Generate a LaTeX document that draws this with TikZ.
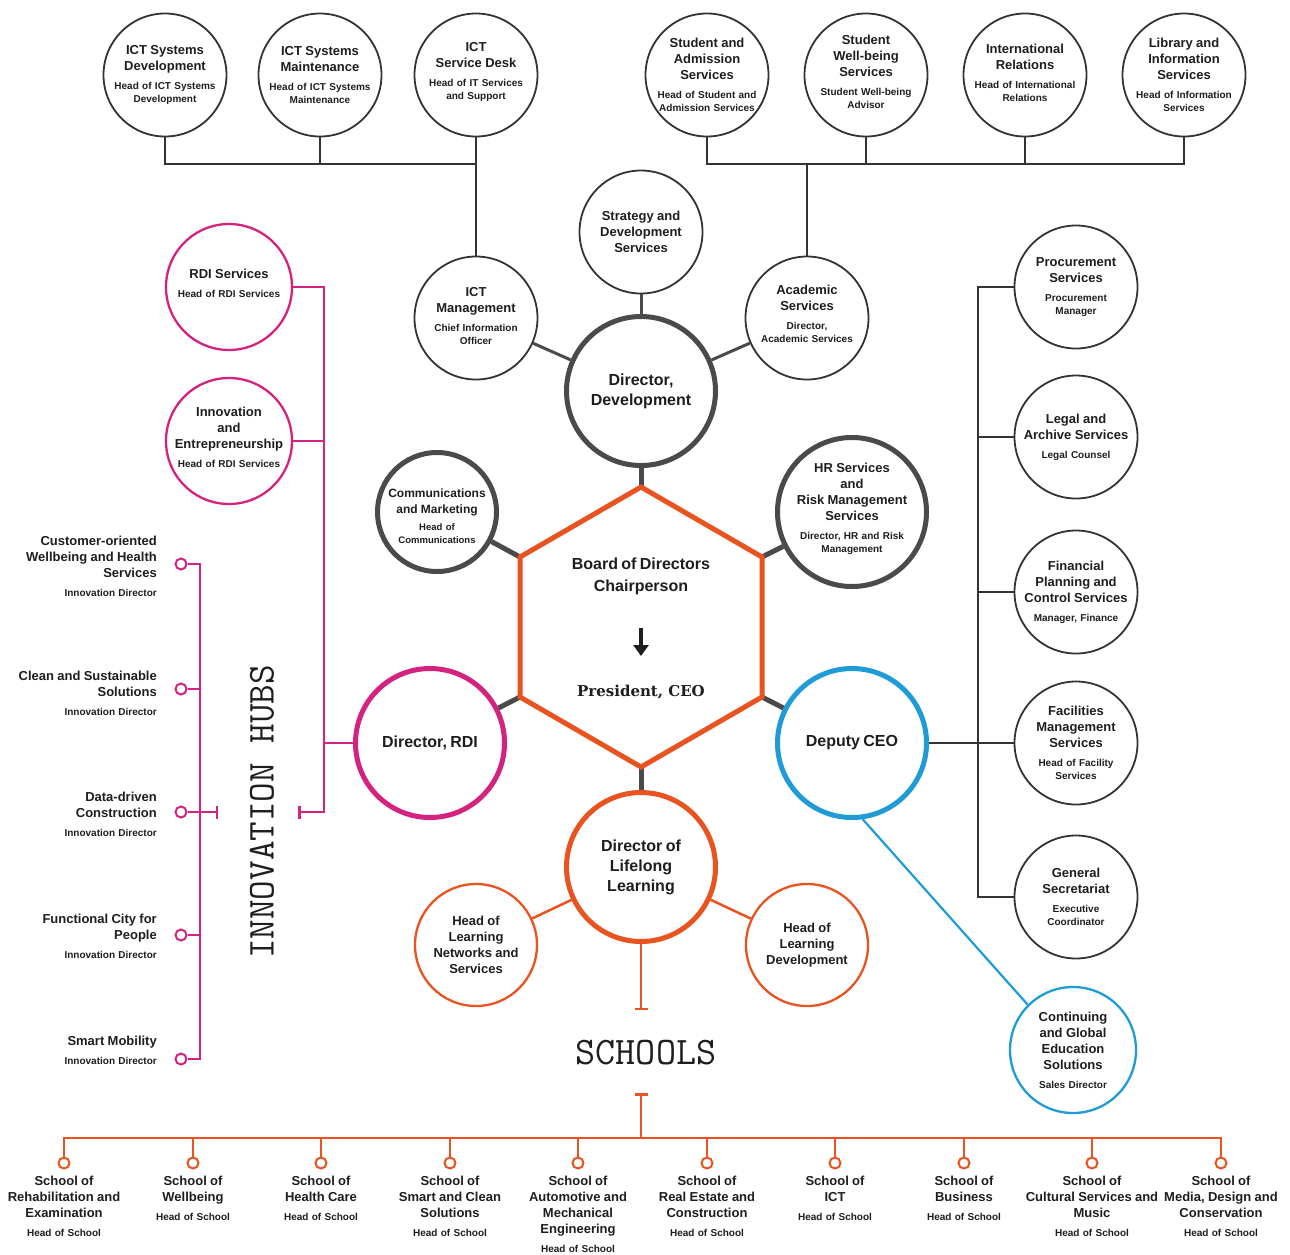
\documentclass[tikz,border=0pt]{standalone}
\usepackage{fontspec}
\setmainfont{Liberation Sans}
\newfontfamily\slabf{DejaVu Serif}
\usetikzlibrary{arrows.meta,calc}
\definecolor{mag}{HTML}{D4237E}
\definecolor{org}{HTML}{E8531F}
\definecolor{cyn}{HTML}{1F9BD7}
\definecolor{dg}{HTML}{4A4A4A}
\definecolor{lk}{HTML}{333333}
\definecolor{tx}{HTML}{1E1E1E}
\newcommand\ttlf{\fontsize{13}{16}\selectfont}
\newcommand\subf{\fontsize{10}{13}\selectfont}
\newcommand\bigf{\fontsize{16}{20}\selectfont}
\newcommand\ctxt[2]{{\ttlf #1\par}\vskip6pt{\subf #2\par}}
\newcommand\cone[1]{{\ttlf #1\par}}
\newcommand\cbig[1]{{\bigf #1\par}}
\begin{document}
\begin{tikzpicture}[x=1pt,y=-1pt,
 cir/.style={circle, draw=lk, line width=1.8pt, minimum size=123pt, inner sep=0pt, fill=white},
 thk/.style={circle, line width=5pt, inner sep=0pt, fill=white},
 txt/.style={text width=160pt, align=center, inner sep=0pt, font=\bfseries, text=tx},
 lkl/.style={draw=lk, line width=2pt},
 gcon/.style={draw=dg, line width=5pt},
 mline/.style={draw=mag, line width=2.5pt},
 oline/.style={draw=org, line width=2.5pt},
 cline/.style={draw=cyn, line width=2.2pt},
 hdot/.style={circle, line width=2pt, minimum size=11pt, inner sep=0pt, fill=white},
 hubl/.style={text width=170pt, align=right, inner sep=0pt, font=\bfseries, text=tx, anchor=east},
 schl/.style={text width=150pt, align=center, inner sep=0pt, font=\bfseries, text=tx, anchor=north},
 tbar/.style={-{Bar[width=13pt]}},
]
\fill[white] (0,0) rectangle (1290,1254);
\useasboundingbox (0,0) rectangle (1290,1254);

% ---------- top row ----------
\node[cir] (isd) at (165,75) {};
\node[txt] (isd-t) at (isd) {\ctxt{ICT Systems\\Development}{Head of ICT Systems\\Development}};
\node[cir] (ism) at (320,75) {};
\node[txt] (ism-t) at (ism) {\ctxt{ICT Systems\\Maintenance}{Head of ICT Systems\\Maintenance}};
\node[cir] (isdesk) at (476,75) {};
\node[txt] (isdesk-t) at ([yshift=3pt]isdesk) {\ctxt{ICT\\Service Desk}{Head of IT Services\\and Support}};
\node[cir] (sas) at (707,75) {};
\node[txt] (sas-t) at (sas) {\ctxt{Student and\\Admission\\Services}{Head of Student and\\Admission Services}};
\node[cir] (swb) at (866,75) {};
\node[txt] (swb-t) at ([yshift=3pt]swb) {\ctxt{Student\\Well-being\\Services}{Student Well-being\\Advisor}};
\node[cir] (intl) at (1025,75) {};
\node[txt] (intl-t) at ([yshift=2pt]intl) {\ctxt{International\\Relations}{Head of International\\Relations}};
\node[cir] (lib) at (1184,75) {};
\node[txt] (lib-t) at (lib) {\ctxt{Library and\\Information\\Services}{Head of Information\\Services}};

% ---------- development ----------
\node[cir] (strat) at (641,232) {};
\node[txt] (strat-t) at (strat) {\cone{Strategy and\\Development\\Services}};
\node[cir] (ictm) at (476,318) {};
\node[txt] (ictm-t) at ([yshift=2pt]ictm) {\ctxt{ICT\\Management}{Chief Information\\Officer}};
\node[cir] (acad) at (807,318) {};
\node[txt] (acad-t) at ([yshift=4pt]acad) {\ctxt{Academic\\Services}{Director,\\Academic Services}};
\node[thk, draw=dg, minimum size=149pt] (dd) at (641,391) {};
\node[txt] (dd-t) at (dd) {\cbig{Director,\\Development}};

% ---------- hexagon ring ----------
\node[thk, draw=dg, minimum size=119pt] (comm) at (437,512) {};
\node[txt] (comm-t) at ([yshift=-4pt]comm) {{\fontsize{12}{16}\selectfont Communications\\and Marketing\par}\vskip5pt{\fontsize{9.5}{12.5}\selectfont Head of\\Communications\par}};
\node[thk, draw=dg, minimum size=149pt] (hr) at (852,512) {};
\node[txt] (hr-t) at ([yshift=3pt]hr) {\ctxt{HR Services\\and\\Risk Management\\Services}{Director, HR and Risk\\Management}};
\node[thk, draw=mag, minimum size=149pt] (drdi) at (430,743) {};
\node[txt] (drdi-t) at (drdi) {\cbig{Director, RDI}};
\node[thk, draw=cyn, minimum size=149pt] (dceo) at (852,743) {};
\node[txt] (dceo-t) at (dceo) {\cbig{Deputy CEO}};
\node[thk, draw=org, minimum size=149pt] (dll) at (641,867) {};
\node[txt] (dll-t) at (dll) {\cbig{Director of\\Lifelong\\Learning}};
\node[circle, draw=org, line width=2.3pt, minimum size=122pt, inner sep=0pt, fill=white] (hln) at (476,945) {};
\node[txt] (hln-t) at (hln) {\cone{Head of\\Learning\\Networks and\\Services}};
\node[circle, draw=org, line width=2.3pt, minimum size=122pt, inner sep=0pt, fill=white] (hld) at (807,945) {};
\node[txt] (hld-t) at (hld) {\cone{Head of\\Learning\\Development}};

% ---------- right column ----------
\node[cir] (proc) at (1076,287) {};
\node[txt] (proc-t) at (proc) {\ctxt{Procurement\\Services}{Procurement\\Manager}};
\node[cir] (legal) at (1076,437) {};
\node[txt] (legal-t) at (legal) {\ctxt{Legal and\\Archive Services}{Legal Counsel}};
\node[cir] (fin) at (1076,592) {};
\node[txt] (fin-t) at (fin) {\ctxt{Financial\\Planning and\\Control Services}{Manager, Finance}};
\node[cir] (fac) at (1076,743) {};
\node[txt] (fac-t) at (fac) {\ctxt{Facilities\\Management\\Services}{Head of Facility\\Services}};
\node[cir] (gsec) at (1076,897) {};
\node[txt] (gsec-t) at (gsec) {\ctxt{General\\Secretariat}{Executive\\Coordinator}};
\node[circle, draw=cyn, line width=2.3pt, minimum size=126pt, inner sep=0pt, fill=white] (cges) at (1073,1050) {};
\node[txt] (cges-t) at (cges) {\ctxt{Continuing\\and Global\\Education\\Solutions}{Sales Director}};

% ---------- left RDI ----------
\node[circle, draw=mag, line width=2.3pt, minimum size=126pt, inner sep=0pt, fill=white] (rdis) at (229,287) {};
\node[txt] (rdis-t) at ([yshift=4pt]rdis) {\ctxt{RDI Services}{Head of RDI Services}};
\node[circle, draw=mag, line width=2.3pt, minimum size=126pt, inner sep=0pt, fill=white] (ie) at (229,441) {};
\node[txt] (ie-t) at ([yshift=4pt]ie) {\ctxt{Innovation\\and\\Entrepreneurship}{Head of RDI Services}};

% ---------- innovation hubs ----------
\node[hdot, draw=mag] (h1) at (181,564) {};
\node[hdot, draw=mag] (h2) at (181,689) {};
\node[hdot, draw=mag] (h3) at (181,812) {};
\node[hdot, draw=mag] (h4) at (181,935) {};
\node[hdot, draw=mag] (h5) at (181,1059) {};
\node[hubl] (hl1) at (157,566) {\ctxt{Customer-oriented\\Wellbeing and Health\\Services}{Innovation Director}};
\node[hubl] (hl2) at (157,693) {\ctxt{Clean and Sustainable\\Solutions}{Innovation Director}};
\node[hubl] (hl3) at (157,814) {\ctxt{Data-driven\\Construction}{Innovation Director}};
\node[hubl] (hl4) at (157,936) {\ctxt{Functional City for\\People}{Innovation Director}};
\node[hubl] (hl5) at (157,1050) {\ctxt{Smart Mobility}{Innovation Director}};
\node[rotate=90, inner sep=0pt, font=\ttfamily\fontsize{38}{38}\selectfont, text=tx] (ihubs) at (262,812) {INNOVATION HUBS};

% ---------- schools ----------
\node[font=\ttfamily\fontsize{39}{39}\selectfont, inner sep=0pt, text=tx] (schools) at (646,1053) {SCHOOLS};
\foreach \i/\x in {1/64,2/193,3/321,4/450,5/578,6/707,7/835,8/964,9/1092,10/1221}{
  \node[hdot, draw=org] (sc\i) at (\x,1163) {};
}
\node[schl] (sl1) at ([yshift=-6pt]sc1.south) {\ctxt{School of\\Rehabilitation and\\Examination}{Head of School}};
\node[schl] (sl2) at ([yshift=-6pt]sc2.south) {\ctxt{School of\\Wellbeing}{Head of School}};
\node[schl] (sl3) at ([yshift=-6pt]sc3.south) {\ctxt{School of\\Health Care}{Head of School}};
\node[schl] (sl4) at ([yshift=-6pt]sc4.south) {\ctxt{School of\\Smart and Clean\\Solutions}{Head of School}};
\node[schl] (sl5) at ([yshift=-6pt]sc5.south) {\ctxt{School of\\Automotive and\\Mechanical\\Engineering}{Head of School}};
\node[schl] (sl6) at ([yshift=-6pt]sc6.south) {\ctxt{School of\\Real Estate and\\Construction}{Head of School}};
\node[schl] (sl7) at ([yshift=-6pt]sc7.south) {\ctxt{School of\\ICT}{Head of School}};
\node[schl] (sl8) at ([yshift=-6pt]sc8.south) {\ctxt{School of\\Business}{Head of School}};
\node[schl] (sl9) at ([yshift=-6pt]sc9.south) {\ctxt{School of\\Cultural Services and\\Music}{Head of School}};
\node[schl] (sl10) at ([yshift=-6pt]sc10.south) {\ctxt{School of\\Media, Design and\\Conservation}{Head of School}};

% ---------- hexagon coordinates ----------
\coordinate (hT) at (641,487);
\coordinate (hUR) at (762,557);
\coordinate (hLR) at (762,697);
\coordinate (hB) at (641,767);
\coordinate (hLL) at (520,697);
\coordinate (hUL) at (520,557);

% ---------- connectors ----------
\coordinate (tbL) at (476,164);
\coordinate (tbR) at (807,164);
\draw[lkl] (isd.south) |- (tbL);
\draw[lkl] (ism.south) -- (ism.south |- tbL);
\draw[lkl] (isdesk.south) -- (ictm.north);
\draw[lkl] (sas.south) |- (lib.south |- tbR) -- (lib.south);
\draw[lkl] (swb.south) -- (swb.south |- tbR);
\draw[lkl] (intl.south) -- (intl.south |- tbR);
\draw[lkl] (tbR) -- (acad.north);

\draw[gcon, line width=3pt] (ictm) -- (dd);
\draw[gcon, line width=3pt] (acad) -- (dd);
\draw[gcon, line width=3pt] (strat) -- (dd);
\draw[gcon] (hT) -- (dd);
\draw[gcon] (hUL) -- (comm);
\draw[gcon] (hUR) -- (hr);
\draw[gcon] (hLL) -- (drdi);
\draw[gcon] (hLR) -- (dceo);
\draw[gcon] (hB) -- (dll);

\coordinate (rbx) at (978,0);
\draw[lkl] (proc.west) -| (rbx |- gsec.west) -- (gsec.west);
\draw[lkl] (legal.west) -- (legal.west -| rbx);
\draw[lkl] (fin.west) -- (fin.west -| rbx);
\draw[lkl] (dceo.east) -- (fac.west);
\draw[cline] (dceo.-82) -- (cges.135);

\coordinate (mx) at (324,0);
\coordinate (mend) at (298,812);
\draw[mline, tbar] (rdis.east) -| (mx |- mend) -- (mend);
\draw[mline] (ie.east) -- (ie.east -| mx);
\draw[mline] (drdi.west) -- (drdi.west -| mx);

\coordinate (hx) at (200,0);
\coordinate (hend) at (218,812);
\draw[mline] (h1.east) -| (hx |- h5.east) -- (h5.east);
\draw[mline] (h2.east) -- (h2.east -| hx);
\draw[mline] (h4.east) -- (h4.east -| hx);
\draw[mline, tbar] (h3.east) -- (hend);

\draw[oline] (dll) -- (hln);
\draw[oline] (dll) -- (hld);
\coordinate (schT) at (641,1010);
\coordinate (schB) at (641,1093);
\coordinate (bus) at (641,1138);
\draw[oline, tbar] (dll.south) -- (schT);
\draw[oline, tbar] (bus) -- (schB);
\draw[oline] (sc1.north) |- (sc10.north |- bus) -- (sc10.north);
\foreach \i in {2,...,9}{\draw[oline] (sc\i.north) -- (sc\i.north |- bus);}

% ---------- hexagon ----------
\draw[org, line width=5pt, line join=miter, fill=white] (hT) -- (hUR) -- (hLR) -- (hB) -- (hLL) -- (hUL) -- cycle;
\node[txt] (bod) at (641,576) {{\fontsize{16}{22}\selectfont Board of Directors\\Chairperson\par}};
\coordinate (arT) at (641,628);
\coordinate (arB) at (641,656);
\draw[tx, line width=3.6pt, -{Triangle[length=11pt,width=15pt]}] (arT) -- (arB);
\node[font=\slabf\bfseries\fontsize{15}{17}\selectfont, text=tx, inner sep=0pt] (pres) at (641,692) {President, CEO};
\end{tikzpicture}
\end{document}
